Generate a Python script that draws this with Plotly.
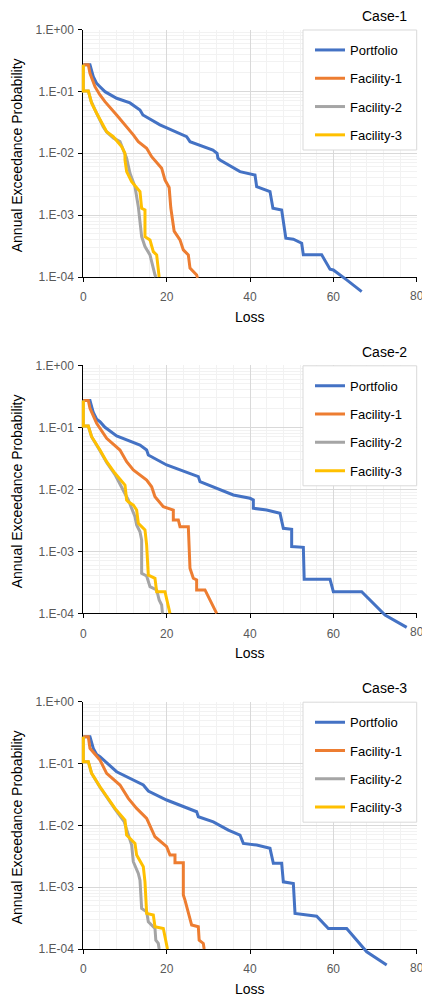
import plotly.graph_objects as go

W, H = 422, 996
FONT = "Liberation Sans, Arial, sans-serif"

case_titles = ["Case-1", "Case-2", "Case-3"]
series_names = ["Portfolio", "Facility-1", "Facility-2", "Facility-3"]
series_colors = ["#4472C4", "#ED7D31", "#A5A5A5", "#FFC000"]

y_tick_vals = [1, 0.1, 0.01, 0.001, 0.0001]
y_tick_text = ["1.E+00", "1.E-01", "1.E-02", "1.E-03", "1.E-04"]
x_tick_vals = [0, 20, 40, 60, 80]
x_title = "Loss"
y_title = "Annual Exceedance Probability"

# ---------------- Case-1 ----------------
c1_portfolio_loss = [0, 1.6, 2.4, 3.2, 4.0, 5.2, 8.0, 11.2, 13.6, 14.3, 18.4, 24.8, 25.6, 31.1, 32.1, 32.3, 32.8,
                     37.6, 41.2, 41.6, 44.8, 45.5, 47.6, 48.6, 50.4, 52.4, 52.8, 57.2, 59.2, 60.0, 63.2, 66.8]
c1_portfolio_prob = [0.27, 0.27, 0.173, 0.135, 0.119, 0.0989, 0.0774, 0.065, 0.050, 0.0416, 0.0287, 0.0185, 0.0154,
                     0.0113, 0.0100, 0.0083, 0.0078, 0.00505, 0.00446, 0.00288, 0.0024, 0.00129, 0.00121, 0.000423,
                     0.000408, 0.000352, 0.000228, 0.000228, 0.000134, 0.00013, 0.0000898, 0.000058]
c1_fac1_loss = [0, 1.2, 1.6, 2.8, 4.0, 5.2, 8.0, 10.4, 12.0, 13.2, 15.2, 16.4, 18.8, 19.6, 20.6, 21.0, 21.8,
                23.2, 24.0, 25.2, 25.6, 27.2, 27.4]
c1_fac1_prob = [0.27, 0.27, 0.196, 0.119, 0.0875, 0.0682, 0.0416, 0.0269, 0.0198, 0.0154, 0.0120, 0.00881,
                0.00573, 0.00371, 0.0028, 0.0013, 0.00055, 0.000398, 0.000274, 0.000228, 0.000139, 0.000108, 0.0000967]
c1_fac2_loss = [0, 0, 1.2, 1.85, 3.2, 4.8, 5.6, 7.2, 8.8, 10.4, 11.2, 12.4, 13.2, 14.0, 14.8, 16.0, 17.2, 17.4]
c1_fac2_prob = [0.27, 0.1016, 0.1016, 0.070, 0.0443, 0.0266, 0.0221, 0.0177, 0.0154, 0.0083, 0.00475, 0.00288,
                0.00137, 0.000449, 0.00031, 0.000228, 0.000108, 0.0001]
c1_fac3_loss = [0, 0, 1.2, 2.0, 3.2, 4.8, 5.6, 7.2, 9.2, 10.0, 10.0, 10.4, 11.6, 13.6, 14.0, 14.8, 14.8, 16.0,
                16.8, 17.6, 18.2]
c1_fac3_prob = [0.27, 0.1016, 0.1016, 0.0643, 0.0443, 0.0269, 0.0223, 0.0185, 0.0128, 0.0100, 0.0078, 0.00505,
                0.00348, 0.0024, 0.00129, 0.00121, 0.000449, 0.000398, 0.000257, 0.000228, 0.0001]

# ---------------- Case-2 ----------------
c2_portfolio_loss = [0, 1.6, 2.4, 3.2, 4.0, 5.2, 8.0, 13.6, 15.2, 15.6, 20.0, 27.6, 28.0, 31.2, 36.0, 40.0, 40.8,
                     40.8, 44.0, 47.2, 48.0, 50.0, 50.0, 52.8, 53.0, 59.2, 60.0, 66.8, 72.4, 77.6]
c2_portfolio_prob = [0.27, 0.27, 0.173, 0.135, 0.123, 0.1, 0.0724, 0.0518, 0.043, 0.0357, 0.0247, 0.0160, 0.0133,
                     0.0110, 0.0081, 0.00716, 0.00672, 0.00494, 0.00464, 0.0041, 0.00235, 0.00226, 0.00119,
                     0.00116, 0.000353, 0.000353, 0.000223, 0.000223, 0.000094, 0.0000594]
c2_fac1_loss = [0, 1.2, 1.6, 3.2, 5.6, 8.8, 10.4, 12.0, 15.2, 16.4, 17.2, 19.2, 21.6, 21.6, 22.8, 23.2, 25.2,
                25.6, 26.4, 27.2, 27.2, 29.2, 32.0]
c2_fac1_prob = [0.27, 0.27, 0.202, 0.116, 0.0665, 0.043, 0.0279, 0.0205, 0.0141, 0.0110, 0.0076, 0.00524,
                0.00464, 0.0032, 0.0032, 0.0025, 0.0025, 0.000532, 0.000367, 0.000344, 0.000238, 0.000238, 0.0001]
c2_fac2_loss = [0, 0, 1.2, 2.0, 4.0, 5.6, 7.6, 9.6, 10.8, 12.4, 12.8, 13.6, 14.0, 14.0, 15.2, 16.0, 17.6, 18.2,
                18.8, 19.0]
c2_fac2_prob = [0.27, 0.105, 0.105, 0.070, 0.042, 0.027, 0.0173, 0.00975, 0.00672, 0.00361, 0.00266, 0.00207,
                0.00152, 0.000442, 0.0004, 0.000269, 0.000238, 0.000164, 0.000136, 0.0001]
c2_fac3_loss = [0, 0, 1.2, 2.0, 4.0, 5.6, 7.6, 10.0, 10.4, 10.8, 12.0, 12.8, 13.2, 14.8, 15.2, 15.6, 17.2, 17.6,
                19.6, 20.8]
c2_fac3_prob = [0.27, 0.105, 0.105, 0.0705, 0.043, 0.0279, 0.0181, 0.0117, 0.00672, 0.0063, 0.00558, 0.00464,
                0.00283, 0.00221, 0.00126, 0.000415, 0.000367, 0.000223, 0.000223, 0.0001]

# ---------------- Case-3 ----------------
c3_portfolio_loss = [0, 1.6, 2.4, 3.2, 4.0, 8.0, 14.4, 15.6, 20.0, 27.2, 27.6, 31.2, 34.8, 37.6, 38.4, 41.6, 44.8,
                     45.6, 47.6, 48.0, 50.4, 50.8, 56.0, 58.8, 63.2, 68.0, 72.8]
c3_portfolio_prob = [0.27, 0.27, 0.175, 0.14, 0.129, 0.0737, 0.0449, 0.0359, 0.0257, 0.0166, 0.0138, 0.0114,
                     0.0084, 0.00697, 0.00511, 0.0048, 0.00425, 0.00243, 0.00243, 0.00122, 0.00115, 0.000377,
                     0.00034, 0.000215, 0.000215, 0.00009, 0.000055]
c3_fac1_loss = [0, 1.2, 1.6, 4.0, 5.6, 8.8, 10.8, 12.8, 15.2, 16.4, 17.2, 20.0, 20.8, 22.0, 22.0, 24.0, 24.0,
                24.4, 25.2, 26.0, 27.6, 27.8, 28.8, 29.0]
c3_fac1_prob = [0.27, 0.27, 0.176, 0.114, 0.0694, 0.0449, 0.0273, 0.0188, 0.0130, 0.0084, 0.00654, 0.00451,
                0.0033, 0.0033, 0.00248, 0.00248, 0.000745, 0.000618, 0.000377, 0.000244, 0.000229, 0.000139,
                0.000123, 0.0001]
c3_fac2_loss = [0, 0, 1.2, 2.0, 4.0, 5.6, 7.6, 9.8, 10.4, 11.6, 12.0, 13.2, 13.6, 14.0, 15.2, 15.6, 17.2, 17.4,
                18.0, 18.2]
c3_fac2_prob = [0.27, 0.107, 0.107, 0.069, 0.0415, 0.0285, 0.0183, 0.0115, 0.0084, 0.0048, 0.00258, 0.00167,
                0.0013, 0.000454, 0.0004, 0.000275, 0.000215, 0.000139, 0.000123, 0.0001]
c3_fac3_loss = [0, 0, 1.2, 2.0, 4.0, 5.6, 7.6, 10.0, 10.4, 12.4, 12.8, 14.4, 14.8, 15.2, 16.8, 17.2, 19.2, 20.2]
c3_fac3_prob = [0.27, 0.107, 0.107, 0.0694, 0.0421, 0.029, 0.0188, 0.0122, 0.00697, 0.00511, 0.0033, 0.00214,
                0.00122, 0.000377, 0.000354, 0.000229, 0.000215, 0.0001]

cases = [
    [(c1_portfolio_loss, c1_portfolio_prob), (c1_fac1_loss, c1_fac1_prob),
     (c1_fac2_loss, c1_fac2_prob), (c1_fac3_loss, c1_fac3_prob)],
    [(c2_portfolio_loss, c2_portfolio_prob), (c2_fac1_loss, c2_fac1_prob),
     (c2_fac2_loss, c2_fac2_prob), (c2_fac3_loss, c2_fac3_prob)],
    [(c3_portfolio_loss, c3_portfolio_prob), (c3_fac1_loss, c3_fac1_prob),
     (c3_fac2_loss, c3_fac2_prob), (c3_fac3_loss, c3_fac3_prob)],
]

# ---------------- layout geometry (pixels) ----------------
PLOT_L, PLOT_R = 83.3, 416.7
PANEL_TOP = [29.5, 365.3, 701.7]
PANEL_BOT = [277.0, 613.3, 949.0]
PAD_L, PAD_B = 6, 26          # extra room so curves are not clipped at the axes
X_MAX = 80

minor_y = [k * 10.0 ** e for e in range(-4, 0) for k in range(2, 10)]

fig = go.Figure()
layout = dict(
    width=W, height=H, margin=dict(l=0, r=0, t=0, b=0, autoexpand=False),
    paper_bgcolor="white", plot_bgcolor="rgba(0,0,0,0)",
    font=dict(family=FONT, color="#000000"),
    showlegend=True, shapes=[], annotations=[],
)

def py(p):
    return 1 - p / H

for i in range(3):
    top, bot = PANEL_TOP[i], PANEL_BOT[i]
    dec = (bot - top) / 4.0
    pxu = (PLOT_R - PLOT_L) / X_MAX
    sfx = str(i + 1) if i else ""
    mx, my = "xaxis" + sfx, "yaxis" + sfx
    ox, oy = f"xaxis{i+4}", f"yaxis{i+4}"
    layout[mx] = dict(
        domain=[PLOT_L / W, PLOT_R / W], range=[0, X_MAX], anchor="y" + sfx,
        tickmode="array", tickvals=x_tick_vals,
        showgrid=True, gridcolor="#D9D9D9", gridwidth=1,
        minor=dict(dtick=4, tick0=0, showgrid=True, gridcolor="#F2F2F2", ticks=""),
        showline=True, linecolor="#000000", linewidth=1,
        ticks="outside", ticklen=4, tickcolor="#000000",
        tickfont=dict(size=12, color="#595959", family=FONT),
        ticklabelstandoff=5,
        zeroline=False, fixedrange=True, automargin=False,
    )
    layout[my] = dict(
        type="log", domain=[py(bot), py(top)], range=[-4, 0], anchor="x" + sfx,
        tickmode="array", tickvals=y_tick_vals, ticktext=y_tick_text,
        showgrid=True, gridcolor="#D9D9D9", gridwidth=1,
        minor=dict(tickmode="array", tickvals=minor_y, showgrid=True, gridcolor="#F2F2F2", ticks=""),
        showline=True, linecolor="#000000", linewidth=1,
        ticks="outside", ticklen=4, tickcolor="#000000",
        tickfont=dict(size=12, color="#595959", family=FONT),
        ticklabelstandoff=2,
        zeroline=False, fixedrange=True, automargin=False,
    )
    layout[ox] = dict(
        domain=[(PLOT_L - PAD_L) / W, PLOT_R / W], range=[-PAD_L / pxu, X_MAX],
        anchor=f"y{i+4}", visible=False, fixedrange=True,
    )
    layout[oy] = dict(
        type="log", domain=[py(bot + PAD_B), py(top)], range=[-4 - PAD_B / dec, 0],
        anchor=f"x{i+4}", visible=False, fixedrange=True,
    )
    # empty trace so the grid/axes subplot gets drawn
    fig.add_trace(go.Scatter(x=[None], y=[None], mode="lines", showlegend=False,
                             hoverinfo="skip", xaxis="x" + sfx, yaxis="y" + sfx))
    leg_key = "legend" if i == 0 else f"legend{i+1}"
    for j, (xs, ys) in enumerate(cases[i]):
        fig.add_trace(go.Scatter(
            x=xs, y=ys, mode="lines", name=series_names[j],
            line=dict(color=series_colors[j], width=3),
            xaxis=f"x{i+4}", yaxis=f"y{i+4}",
            legend=leg_key, legendgroup=f"{leg_key}_{j}",
        ))
    # legend box (white panel with light border)
    layout["shapes"].append(dict(
        type="rect", xref="paper", yref="paper", layer="above",
        x0=303 / W, x1=PLOT_R / W, y0=py(top + 120.5), y1=py(top + 0.5),
        fillcolor="white", line=dict(color="#D9D9D9", width=1),
    ))
    layout[leg_key] = dict(
        x=310 / W, xanchor="left", y=py(top + 5.5), yanchor="top",
        bgcolor="rgba(0,0,0,0)", borderwidth=0,
        font=dict(size=13, color="#000000", family=FONT),
        tracegroupgap=8.4, traceorder="grouped",
    )
    layout["annotations"] += [
        dict(text=case_titles[i], xref="paper", yref="paper", x=408.5 / W, y=py(top - 13.5),
             xanchor="right", yanchor="middle", showarrow=False,
             font=dict(size=14, color="#000000", family=FONT)),
        dict(text=x_title, xref="paper", yref="paper", x=(PLOT_L + PLOT_R) / 2 / W, y=py(bot + 40),
             xanchor="center", yanchor="middle", showarrow=False,
             font=dict(size=14, color="#000000", family=FONT)),
        dict(text=y_title, xref="paper", yref="paper", x=17 / W, y=py((top + bot) / 2 + 2),
             xanchor="center", yanchor="middle", textangle=-90, showarrow=False,
             font=dict(size=14, color="#000000", family=FONT)),
        # last x tick label, cut by the right edge as in the original
        dict(text=str(x_tick_vals[-1]), xref="x" + sfx, yref="paper", x=x_tick_vals[-1], y=py(bot + 18.7),
             xanchor="center", yanchor="middle", showarrow=False,
             font=dict(size=12, color="#595959", family=FONT)),
    ]

fig.update_layout(**layout)
fig.write_html("out.html")
